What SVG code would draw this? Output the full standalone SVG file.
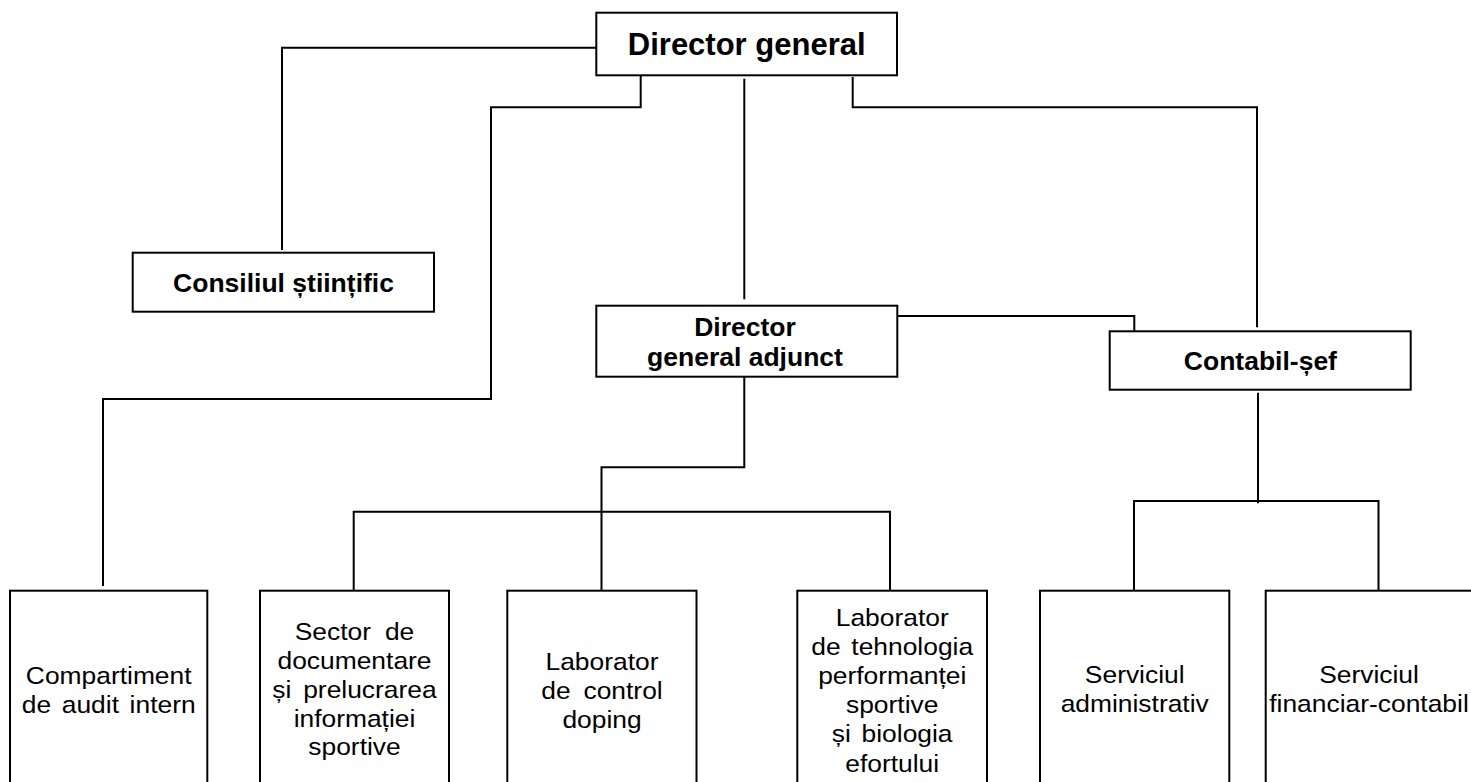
<svg xmlns="http://www.w3.org/2000/svg" width="1471" height="782" viewBox="0 0 1471 782">
<style>
.box{fill:#fff;stroke:#000;stroke-width:2}
.ln{fill:none;stroke:#000;stroke-width:2;stroke-linejoin:miter;stroke-linecap:butt}
.b{font-family:"Liberation Sans",Arial,Helvetica,sans-serif;font-weight:bold;fill:#000;text-anchor:middle}
.r{font-family:"Liberation Sans",Arial,Helvetica,sans-serif;font-size:24px;fill:#000;text-anchor:middle}
</style>
<rect width="1471" height="782" fill="#fff"/>
<g id="connectors">
<path class="ln" d="M596,47.7 H282 V250"/>
<path class="ln" d="M640.7,75.3 V107.3 H491 V399 H103 V586"/>
<path class="ln" d="M744.3,78.7 V299.3"/>
<path class="ln" d="M852.7,77 V107.3 H1257 V327.3"/>
<path class="ln" d="M897.3,316 H1134.3 V330.7"/>
<path class="ln" d="M744.3,376.7 V467.3 H601.5 V590.7"/>
<path class="ln" d="M353.7,592 V511.7 H890 V591"/>
<path class="ln" d="M1258,392.7 V503.3"/>
<path class="ln" d="M1134,590 V501 H1378.5 V590"/>
</g>
<g id="director-general">
<rect class="box" x="596.3" y="12.7" width="300.7" height="62.6"/>
<text class="b" x="746.7" y="55" font-size="31">Director general</text>
</g>
<g id="consiliul-stiintific">
<rect class="box" x="132.7" y="252.7" width="301.3" height="59"/>
<text class="b" x="283.5" y="292.3" font-size="26.5">Consiliul științific</text>
</g>
<g id="director-general-adjunct">
<rect class="box" x="596.3" y="305.7" width="301" height="71"/>
<text class="b" font-size="26.5"><tspan x="745" y="335.7">Director</tspan><tspan x="745" y="365.5">general adjunct</tspan></text>
</g>
<g id="contabil-sef">
<rect class="box" x="1109.7" y="331.3" width="301" height="58.4"/>
<text class="b" x="1260.4" y="370" font-size="26.5">Contabil-șef</text>
</g>
<g id="compartiment-audit">
<rect class="box" x="10" y="590.7" width="197.3" height="200"/>
<text class="r" transform="translate(108.7 0) scale(1.1 1)"><tspan x="0" y="684">Compartiment</tspan><tspan x="0" y="713.3" word-spacing="3">de audit intern</tspan></text>
</g>
<g id="sector-documentare">
<rect class="box" x="260" y="590.7" width="189" height="200"/>
<text class="r" transform="translate(354.5 0) scale(1.1 1)"><tspan x="0" y="640" word-spacing="6">Sector de</tspan><tspan x="0" y="669">documentare</tspan><tspan x="0" y="697.8" word-spacing="4">și prelucrarea</tspan><tspan x="0" y="726.6">informației</tspan><tspan x="0" y="755.4">sportive</tspan></text>
</g>
<g id="laborator-doping">
<rect class="box" x="507.3" y="590.7" width="189.2" height="200"/>
<text class="r" transform="translate(602 0) scale(1.1 1)"><tspan x="0" y="670">Laborator</tspan><tspan x="0" y="699" word-spacing="5">de control</tspan><tspan x="0" y="728">doping</tspan></text>
</g>
<g id="laborator-tehnologia">
<rect class="box" x="797.3" y="590.7" width="189.7" height="200"/>
<text class="r" transform="translate(892.2 0) scale(1.1 1)"><tspan x="0" y="625.7">Laborator</tspan><tspan x="0" y="654.9" word-spacing="3">de tehnologia</tspan><tspan x="0" y="684.1">performanței</tspan><tspan x="0" y="713.3">sportive</tspan><tspan x="0" y="742.5" word-spacing="3">și biologia</tspan><tspan x="0" y="771.7">efortului</tspan></text>
</g>
<g id="serviciul-administrativ">
<rect class="box" x="1040" y="590.7" width="189.3" height="200"/>
<text class="r" transform="translate(1134.7 0) scale(1.1 1)"><tspan x="0" y="683.3">Serviciul</tspan><tspan x="0" y="712.3">administrativ</tspan></text>
</g>
<g id="serviciul-financiar">
<rect class="box" x="1265.7" y="590.7" width="207" height="200"/>
<text class="r" transform="translate(1369 0) scale(1.1 1)"><tspan x="0" y="683.3">Serviciul</tspan><tspan x="0" y="712.3">financiar-contabil</tspan></text>
</g>
</svg>
